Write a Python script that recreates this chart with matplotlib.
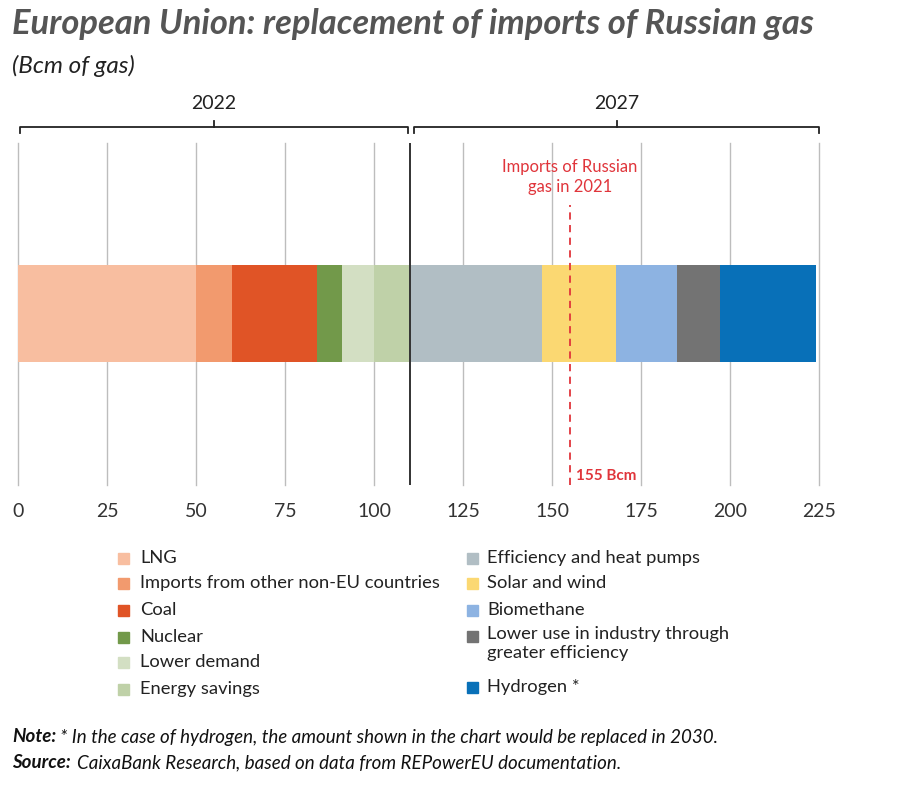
import matplotlib

matplotlib.use("Agg")
import matplotlib.pyplot as plt
from matplotlib.patches import Rectangle
import matplotlib.transforms as mtransforms

plt.rcParams["font.family"] = ["Lato", "DejaVu Sans"]

# Data (Bcm of gas)
labels = [
    "LNG",
    "Imports from other non-EU countries",
    "Coal",
    "Nuclear",
    "Lower demand",
    "Energy savings",
    "Efficiency and heat pumps",
    "Solar and wind",
    "Biomethane",
    "Lower use in industry through\ngreater efficiency",
    "Hydrogen *",
]
values = [50, 10, 24, 7, 9, 10, 37, 21, 17, 12, 27]
colors = [
    "#f8bea0", "#f29a6e", "#e05426", "#72994a", "#d3dfc3", "#bfd1a8",
    "#b1bec4", "#fbd872", "#8db3e2", "#737373", "#0870b8",
]
split_2022 = 110
russian_imports_2021 = 155
xticks = [0, 25, 50, 75, 100, 125, 150, 175, 200, 225]

W, H = 900, 789
fig = plt.figure(figsize=(9, 7.89), dpi=100)
ax = fig.add_axes([18 / W, 1 - 485 / H, (819.3 - 18) / W, 342 / H])
ax.set_xlim(0, 225)
ax.set_ylim(0, 1)

left = 0
for v, c in zip(values, colors):
    ax.barh(0.5015, v, left=left, height=0.284, color=c, zorder=2)
    left += v

# grid
for t in xticks:
    ax.axvline(t, color="#bdbdbd", lw=1, zorder=1, clip_on=False)
ax.axvline(split_2022, color="#333333", lw=1.4, zorder=3)

for s in ax.spines.values():
    s.set_visible(False)
ax.set_yticks([])
ax.set_xticks(xticks)
ax.tick_params(axis="x", length=0, pad=13, labelsize=14, labelcolor="#333333")

# Russian imports marker
ax.plot([russian_imports_2021, russian_imports_2021], [0, 0.82],
        color="#e0353b", lw=1.3, ls=(0, (4, 3)), zorder=4)
ax.text(russian_imports_2021, 0.90, "Imports of Russian\ngas in 2021",
        ha="center", va="center", color="#e0353b", fontsize=12, linespacing=1.3)
ax.text(russian_imports_2021 + 1.6, 0.026, "155 Bcm", ha="left", va="center",
        color="#e0353b", fontsize=11, fontweight="bold")

# period brackets
trans = mtransforms.blended_transform_factory(ax.transData, ax.transAxes)


def bracket(x0, x1, label):
    xm = (x0 + x1) / 2
    ax.plot([x0, x0, x1, x1], [1.029, 1.047, 1.047, 1.029], color="#222222",
            lw=1.3, transform=trans, clip_on=False)
    ax.plot([xm, xm], [1.047, 1.064], color="#222222", lw=1.3,
            transform=trans, clip_on=False)
    ax.text(xm, 1.115, label, ha="center", va="center", fontsize=14,
            color="#222222", transform=trans)


bracket(0.6, 109.4, "2022")
bracket(111.2, 225, "2027")

# legend
rows = [558, 583, 610, 637, 662, 689]
for i in range(6):
    y = 1 - rows[i] / H
    fig.patches.append(Rectangle((118 / W, y - 5.5 / H), 11 / W, 11 / H,
                                 transform=fig.transFigure, color=colors[i]))
    fig.text(140 / W, y, labels[i], va="center", fontsize=13.2, color="#222222")
rows2 = [558, 583, 610, 636, 687]
for j, i in enumerate(range(6, 11)):
    y = 1 - rows2[j] / H
    fig.patches.append(Rectangle((467 / W, y - 5.5 / H), 11 / W, 11 / H,
                                 transform=fig.transFigure, color=colors[i]))
    if "\n" in labels[i]:
        fig.text(487 / W, y + 10 / H, labels[i], va="top", fontsize=13.2,
                 color="#222222", linespacing=1.2)
    else:
        fig.text(487 / W, y, labels[i], va="center", fontsize=13.2, color="#222222")

# titles
fig.text(12 / W, 1 - 24 / H, "European Union: replacement of imports of Russian gas",
         fontsize=24.8, fontweight="bold", fontstyle="italic", color="#555555",
         va="center")
fig.text(12 / W, 1 - 66 / H, "(Bcm of gas)", fontsize=17.5, fontstyle="italic",
         color="#222222", va="center")

fig.text(12 / W, 1 - 737 / H, "Note:", fontsize=13.5, fontweight="bold",
         fontstyle="italic", va="center", color="#111111")
fig.text(60 / W, 1 - 737 / H,
         "* In the case of hydrogen, the amount shown in the chart would be replaced in 2030.",
         fontsize=13.5, fontstyle="italic", va="center", color="#111111")
fig.text(12 / W, 1 - 763 / H, "Source:", fontsize=13.5, fontweight="bold",
         fontstyle="italic", va="center", color="#111111")
fig.text(77 / W, 1 - 763 / H,
         "CaixaBank Research, based on data from REPowerEU documentation.",
         fontsize=13.5, fontstyle="italic", va="center", color="#111111")

fig.savefig("out.png", dpi=100)
